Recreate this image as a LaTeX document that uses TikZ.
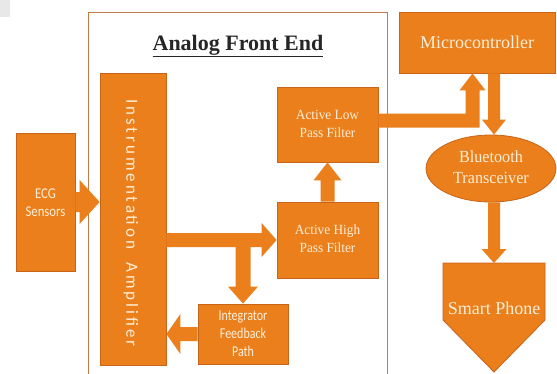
\documentclass[tikz,border=0pt]{standalone}
\usepackage{graphicx}
\usepackage{fontspec}
\setmainfont{Liberation Serif}
\newfontfamily\calfont{Carlito}
\newfontfamily\iafont{Carlito}[LetterSpace=17]
\usetikzlibrary{calc,shapes.geometric}
\definecolor{ofill}{RGB}{234,127,28}
\definecolor{obord}{RGB}{200,100,25}
\definecolor{otext}{RGB}{255,238,215}
\definecolor{oframe}{RGB}{196,122,70}
\tikzset{
  box/.style={draw=obord, line width=0.8pt, fill=ofill, text=otext, inner sep=0pt, align=center},
  barrow/.style={fill=ofill},
  lbl/.style={text=otext, inner sep=0pt, align=center},
}
\newcommand{\barR}[5]{\fill[barrow] let \p1=#1, \p2=#2 in (\x1,\y2+#3) -- (\x2-#5,\y2+#3) -- (\x2-#5,\y2+#4) -- (\x2,\y2) -- (\x2-#5,\y2-#4) -- (\x2-#5,\y2-#3) -- (\x1,\y2-#3) -- cycle;}
\newcommand{\barL}[5]{\fill[barrow] let \p1=#1, \p2=#2 in (\x1,\y2+#3) -- (\x2+#5,\y2+#3) -- (\x2+#5,\y2+#4) -- (\x2,\y2) -- (\x2+#5,\y2-#4) -- (\x2+#5,\y2-#3) -- (\x1,\y2-#3) -- cycle;}
\newcommand{\barD}[5]{\fill[barrow] let \p1=#1, \p2=#2 in (\x2+#3,\y1) -- (\x2+#3,\y2+#5) -- (\x2+#4,\y2+#5) -- (\x2,\y2) -- (\x2-#4,\y2+#5) -- (\x2-#3,\y2+#5) -- (\x2-#3,\y1) -- cycle;}
\newcommand{\barU}[5]{\fill[barrow] let \p1=#1, \p2=#2 in (\x2+#3,\y1) -- (\x2+#3,\y2-#5) -- (\x2+#4,\y2-#5) -- (\x2,\y2) -- (\x2-#4,\y2-#5) -- (\x2-#3,\y2-#5) -- (\x2-#3,\y1) -- cycle;}
\newcommand{\sq}[2]{\scalebox{#1}[1]{\begin{tabular}{@{}c@{}}#2\end{tabular}}}
\begin{document}
\begin{tikzpicture}[x=1pt,y=-1pt]
\useasboundingbox (0,0) rectangle (557,373);
\clip (0,0) rectangle (557,373);
\fill[white] (0,0) rectangle (557,373);
\fill[black!9] (0,0) rectangle (10,17);
% frame
\draw[oframe, line width=1pt] (88,390) -- (88,12) -- (387,12) -- (387,390);
\node[anchor=base, font=\fontsize{22}{26}\selectfont\bfseries, text=black!85, inner sep=0pt] (title) at (238,50) {\underline{Analog Front End}};
% boxes
\node[box, minimum width=59pt, minimum height=138pt] (ecg) at (45.5,202) {};
\node[box, minimum width=66pt, minimum height=292pt] (ia) at (133,219) {};
\node[box, minimum width=101pt, minimum height=75pt] (lpf) at (327.5,124.5) {};
\node[box, minimum width=101pt, minimum height=76pt] (hpf) at (327.5,240) {};
\node[box, minimum width=90pt, minimum height=60pt] (integ) at (243,334) {};
\node[box, minimum width=156pt, minimum height=61pt] (mcu) at (477,42.5) {};
\node[box, ellipse, minimum width=130pt, minimum height=67pt] (bt) at (491,168.5) {};
\coordinate (sptop) at (494,263);
\fill[ofill, draw=obord, line width=0.8pt] (443,263) -- (545,263) -- (545,320) -- (494,372) -- (443,320) -- cycle;
% arrows
\barR{(ecg.east)}{(ecg.east -| ia.west)}{10pt}{22pt}{20pt}
\barR{(ia.east |- hpf.west)}{(hpf.west)}{7pt}{17pt}{15pt}
\barD{(integ.north |- hpf.west)}{(integ.north)}{7.5pt}{15pt}{17pt}
\barL{(integ.west)}{(integ.west -| ia.east)}{7pt}{20pt}{14pt}
\barU{(hpf.north)}{(lpf.south)}{7pt}{14pt}{18pt}
\fill[barrow] let \p1=([yshift=4pt]lpf.east), \p2=([xshift=-4.5pt]mcu.south) in
  (\x1,\y1+7pt) -- (\x2-7pt,\y1+7pt) -- (\x2-7pt,\y2-17pt) -- (\x2-13pt,\y2-17pt) -- (\x2,\y2)
  -- (\x2+13pt,\y2-17pt) -- (\x2+7pt,\y2-17pt) -- (\x2+7pt,\y1-7pt) -- (\x1,\y1-7pt) -- cycle;
\barD{(mcu.south)}{([xshift=3pt]bt.north)}{6pt}{12pt}{15pt}
\barD{(bt.south)}{(sptop)}{6pt}{12.5pt}{14pt}
% labels
\node[lbl, font=\calfont\fontsize{15}{18}\selectfont] (ecgt) at ([yshift=-2pt]ecg.center) {\sq{0.85}{ECG\\Sensors}};
\node[lbl, rotate=-90, font=\iafont\fontsize{17}{20}\selectfont] (iat) at ([xshift=-2pt,yshift=-4pt]ia.center) {Instrumentation\ \ Amplifier};
\node[lbl, font=\fontsize{14}{18}\selectfont] (lpft) at (lpf.center) {\sq{0.95}{Active Low\\Pass Filter}};
\node[lbl, font=\fontsize{14}{18}\selectfont] (hpft) at (hpf.center) {\sq{0.95}{Active High\\Pass Filter}};
\node[lbl, font=\calfont\fontsize{15}{18}\selectfont] (integt) at ([yshift=-1pt]integ.center) {\sq{0.8}{Integrator\\Feedback\\Path}};
\node[lbl, font=\fontsize{18}{22}\selectfont] (mcut) at (mcu.center) {Microcontroller};
\node[lbl, font=\fontsize{17}{21}\selectfont] (btt) at (bt.center) {\sq{0.95}{Bluetooth\\Transceiver}};
\node[lbl, font=\fontsize{18}{22}\selectfont] (sp) at (494,308) {Smart Phone};
\end{tikzpicture}
\end{document}
